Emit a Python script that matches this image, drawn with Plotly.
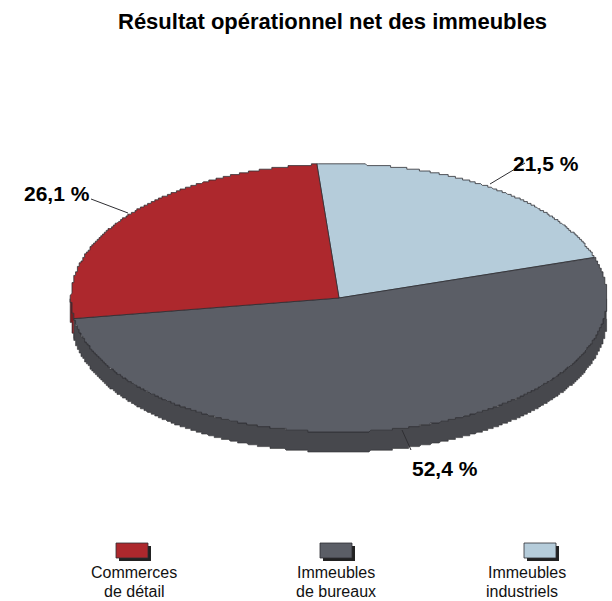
import numpy as np
import plotly.graph_objects as go

categories = [["Commerces", "de détail"], ["Immeubles", "de bureaux"], ["Immeubles", "industriels"]]
values = [26.1, 52.4, 21.5]
value_labels = ["26,1 %", "52,4 %", "21,5 %"]
colors = ["#ad282d", "#5b5e66", "#b5ccda"]
side_colors = ["#7a1c20", "#47484d", "#7f8f99"]
title = "Résultat opérationnel net des immeubles"

CX, CY, RX, RY, DEPTH = 339.0, 298.0, 268.0, 134.0, 20.0
START = -4.9
OUTLINE = "#2f2f33"
FONT = "Liberation Sans, Arial, sans-serif"
STEP = 1.8


def ex(t):
    return np.round((CX + RX * np.sin(np.radians(t))) / STEP) * STEP


def ey(t):
    return np.round((CY - RY * np.cos(np.radians(t))) / STEP) * STEP


order = [2, 1, 0]
bounds = {}
a = START
for i in order:
    b = a + values[i] * 3.6
    bounds[i] = (a, b)
    a = b

fig = go.Figure()

for i in order:
    a, b = bounds[i]
    lo, hi = max(a, 90), min(b, 270)
    if lo >= hi:
        continue
    t = np.linspace(lo, hi, 1500)
    xs = np.concatenate([ex(t), ex(t[::-1])])
    ys = np.concatenate([ey(t), ey(t[::-1]) + DEPTH])
    fig.add_trace(go.Scatter(x=xs, y=ys, mode="lines", fill="toself", fillcolor=side_colors[i],
                             line=dict(color=OUTLINE, width=0.6), hoverinfo="skip"))

for i in order:
    a, b = bounds[i]
    t = np.linspace(a, b, 1500)
    xs = np.concatenate([[CX], ex(t), [CX]])
    ys = np.concatenate([[CY], ey(t), [CY]])
    fig.add_trace(go.Scatter(x=xs, y=ys, mode="lines", fill="toself", fillcolor=colors[i],
                             line=dict(color=OUTLINE, width=0.8), hoverinfo="skip"))

leaders = {0: ((128, 213), (91, 199), (57, 193)),
           1: ((402, 430), (411, 450), (445, 468)),
           2: ((490, 184), (525, 163), (546, 163))}
for i, (p0, p1, lab) in leaders.items():
    fig.add_trace(go.Scatter(x=[p0[0], p1[0]], y=[p0[1], p1[1]], mode="lines",
                             line=dict(color=OUTLINE, width=1), hoverinfo="skip"))
    fig.add_annotation(x=lab[0], y=lab[1], text="<b>" + value_labels[i] + "</b>", showarrow=False,
                       font=dict(family=FONT, size=21, color="#000"))

swatch_x = [116, 320, 524]
label_x = [[134, 134], [336, 336], [527, 522]]
for i in range(3):
    x0 = swatch_x[i]
    fig.add_shape(type="rect", x0=x0 + 3, x1=x0 + 35, y0=546, y1=561, fillcolor="#222",
                  line=dict(width=0), layer="above")
    fig.add_shape(type="rect", x0=x0, x1=x0 + 32, y0=543, y1=558, fillcolor=colors[i],
                  line=dict(color=OUTLINE, width=0.8), layer="above")
    for j, yy in enumerate([572, 591]):
        fig.add_annotation(x=label_x[i][j], y=yy, text=categories[i][j], showarrow=False,
                           font=dict(family=FONT, size=16, color="#111"))

fig.add_annotation(x=332, y=21, text="<b>" + title + "</b>", showarrow=False,
                   font=dict(family=FONT, size=22, color="#000"))

fig.update_layout(
    width=612, height=601, margin=dict(l=0, r=0, t=0, b=0), showlegend=False,
    paper_bgcolor="white", plot_bgcolor="white",
    xaxis=dict(range=[0, 612], visible=False, fixedrange=True),
    yaxis=dict(range=[601, 0], visible=False, fixedrange=True),
)
fig.write_html("out.html", config={"displayModeBar": False},
               post_script="document.body.style.margin='0';document.documentElement.style.overflow='hidden';")
